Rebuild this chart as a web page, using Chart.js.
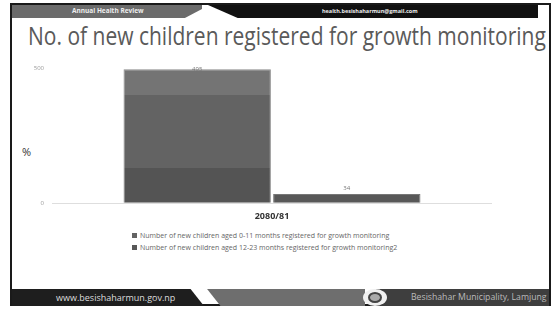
<!DOCTYPE html>
<html>
<head>
<meta charset="utf-8">
<script src="https://cdn.jsdelivr.net/npm/chart.js@4.4.0/dist/chart.umd.min.js"></script>
<style>
  body { margin: 0; background: #fff; width: 556px; height: 310px; overflow: hidden; font-family: "Open Sans", sans-serif; }
  #slide { position: absolute; left: 10px; top: 3px; width: 541px; height: 303px; border: 2px solid #1a1a1a; box-sizing: border-box; }
  .abs { position: absolute; }
  #topGray { left: 0; top: 0; width: 190px; height: 13px; background: #6b6b6b; clip-path: polygon(0 0, 100% 0, 100% 30%, 91% 100%, 0 100%); }
  #topBlack { left: 196px; top: 0; width: 330px; height: 13px; background: #111; clip-path: polygon(0 0, 100% 0, 100% 100%, 9% 100%); }
  #topTxt1 { left: 60px; top: 1px; font: bold 6.5px "Open Sans", sans-serif; color: #eee; }
  #topTxt2 { left: 310px; top: 2px; font: bold 5.5px "Open Sans", sans-serif; color: #eee; }
  #title { left: 28px; top: 18px; font: 25px "Open Sans", sans-serif; color: #5a5a5a; white-space: nowrap; transform-origin: 0 0; }
  #pct { left: 22px; top: 144px; font: 11px "Open Sans", sans-serif; color: #333; -webkit-font-smoothing: antialiased; }
  #botBlack { left: 0; top: 284px; width: 192px; height: 17px; background: #1e1e1e; clip-path: polygon(0 0, 93% 0, 100% 100%, 0 100%); }
  #botGray { left: 185px; top: 284px; width: 168px; height: 17px; background: #6e6e6e; clip-path: polygon(6% 0, 100% 0, 100% 100%, 14% 100%); }
  #botDark { left: 364px; top: 284px; width: 173px; height: 17px; background: #3e3e3e; }
  #logo { left: 351px; top: 284px; width: 24px; height: 17px; border-radius: 50%; background: #f0f0f0; }
  #logoIn { left: 356px; top: 287px; width: 14px; height: 11px; border-radius: 50%; border: 2px solid #444; box-sizing: border-box; background: #aaa; }
  #botTxt1 { left: 44px; top: 286px; font: 9px "Open Sans", sans-serif; color: #ddd; }
  #botTxt2 { left: 399px; top: 286px; font: 8.7px "Open Sans", sans-serif; color: #bbb; }
  #chartBox { position: absolute; left: 12px; top: 55px; width: 534px; height: 167px; }
  #legend { left: 120px; top: 225px; font: 7px "Open Sans", sans-serif; color: #666; line-height: 12px; }
  #legend span.sw { display: inline-block; width: 5px; height: 5px; margin-right: 3px; vertical-align: 0px; }
</style>
</head>
<body>
<div id="slide">
  <div class="abs" id="topGray"></div>
  <div class="abs" id="topBlack"></div>
  <div class="abs" id="topTxt1">Annual Health Review</div>
  <div class="abs" id="topTxt2">health.besishaharmun@gmail.com</div>
  <div class="abs" id="botBlack"></div>
  <div class="abs" id="botGray"></div>
  <div class="abs" id="botDark"></div>
  <div class="abs" id="logo"></div>
  <div class="abs" id="logoIn"></div>
  <div class="abs" id="botTxt1">www.besishaharmun.gov.np</div>
  <div class="abs" id="botTxt2">Besishahar Municipality, Lamjung</div>
  <div class="abs" id="legend"></div>
</div>
<div class="abs" id="title">No. of new children registered for growth monitoring</div>
<div class="abs" id="pct">%</div>
<div id="chartBox"><canvas id="chart"></canvas></div>

<script>
// datos del gráfico
const categories = ["2080/81"];
const seriesLabels = [
  "Number of  new children aged 0-11 months registered for growth monitoring",
  "Number of new children aged 12-23 months registered for growth monitoring2"
];
const aged0to11 = [495];
const aged12to23 = [34];
const yTicks = [0, 500];

// ajustar el ancho del título
const title = document.getElementById("title");
title.style.transform = "scaleX(" + (518 / title.offsetWidth) + ")";

// bandas de sombreado de la primera barra
function bandFill(context) {
  const chart = context.chart;
  const y = chart.scales.y;
  if (!y || !chart.chartArea) return "#636363";
  const ctx = chart.ctx;
  const g = ctx.createLinearGradient(0, y.getPixelForValue(500), 0, y.getPixelForValue(0));
  const a = (500 - 400) / 500;
  const b = (500 - 130) / 500;
  g.addColorStop(0, "#747474");
  g.addColorStop(a, "#747474");
  g.addColorStop(a, "#636363");
  g.addColorStop(b, "#636363");
  g.addColorStop(b, "#545454");
  g.addColorStop(1, "#545454");
  return g;
}

// etiquetas de valores
const valueLabels = {
  id: "valueLabels",
  afterDatasetsDraw(chart) {
    const ctx = chart.ctx;
    ctx.save();
    ctx.font = "6px 'Open Sans', sans-serif";
    ctx.fillStyle = "#777";
    ctx.textAlign = "center";
    ctx.textBaseline = "bottom";
    chart.data.datasets.forEach((ds, i) => {
      chart.getDatasetMeta(i).data.forEach((bar, j) => {
        ctx.fillText(ds.data[j], bar.x, bar.y + (i === 0 ? 3 : -3));
      });
    });
    ctx.restore();
  }
};

const colors = [bandFill, "#585858"];
const legendColors = ["#636363", "#585858"];

new Chart(document.getElementById("chart"), {
  type: "bar",
  data: {
    labels: categories,
    datasets: [
      { label: seriesLabels[0], data: aged0to11, backgroundColor: colors[0], borderColor: "#8a8a8a", borderWidth: 1 },
      { label: seriesLabels[1], data: aged12to23, backgroundColor: colors[1], borderColor: "#777", borderWidth: 1 }
    ]
  },
  options: {
    responsive: true,
    maintainAspectRatio: false,
    animation: false,
    layout: { padding: { top: 13, right: 54, bottom: 0, left: 0 } },
    datasets: { bar: { categoryPercentage: 0.68, barPercentage: 0.985 } },
    scales: {
      x: {
        grid: { display: false },
        border: { display: false },
        ticks: { color: "#333", font: { family: "Open Sans", size: 9, weight: "bold" }, padding: 0 }
      },
      y: {
        min: 0,
        max: 500,
        afterBuildTicks(axis) { axis.ticks = yTicks.map(v => ({ value: v })); },
        afterFit(axis) { axis.width = 40; },
        grid: { drawTicks: false, color: ctx => ctx.tick && ctx.tick.value === 0 ? "#dedede" : "rgba(0,0,0,0)" },
        border: { display: false },
        ticks: { color: "#999", font: { family: "Open Sans", size: 6 }, padding: 8 }
      }
    },
    plugins: {
      legend: { display: false },
      tooltip: { enabled: false }
    }
  },
  plugins: [valueLabels]
});

// leyenda
document.getElementById("legend").innerHTML = seriesLabels
  .map((l, i) => `<div><span class="sw" style="background:${legendColors[i]}"></span>${l}</div>`)
  .join("");
</script>
</body>
</html>
